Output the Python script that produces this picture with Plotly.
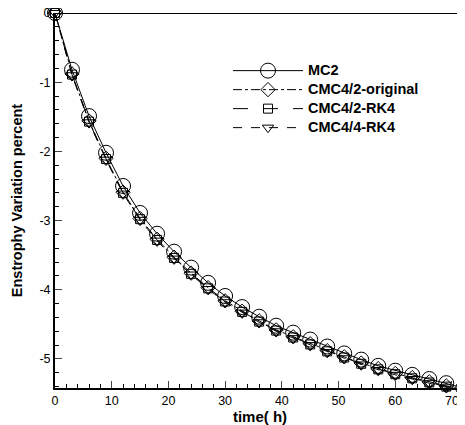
import plotly.graph_objects as go

time_h = [0, 3, 6, 9, 12, 15, 18, 21, 24, 27, 30, 33, 36, 39, 42, 45, 48, 51, 54, 57, 60, 63, 66, 69, 72]
mc2 = [0, -0.82, -1.49, -2.02, -2.50, -2.89, -3.19, -3.45, -3.68, -3.90, -4.09, -4.25, -4.39, -4.52,
       -4.62, -4.72, -4.82, -4.92, -5.01, -5.10, -5.17, -5.23, -5.29, -5.35, -5.42]
cmc42_orig = [0, -0.88, -1.56, -2.10, -2.59, -2.97, -3.27, -3.53, -3.76, -3.97, -4.16, -4.31, -4.45, -4.58,
              -4.68, -4.78, -4.88, -4.97, -5.06, -5.14, -5.21, -5.27, -5.33, -5.39, -5.45]
cmc42_rk4 = [0, -0.89, -1.57, -2.11, -2.60, -2.98, -3.28, -3.54, -3.77, -3.98, -4.17, -4.32, -4.46, -4.59,
             -4.69, -4.79, -4.89, -4.98, -5.07, -5.15, -5.22, -5.28, -5.34, -5.40, -5.46]
cmc44_rk4 = [0, -0.90, -1.58, -2.12, -2.61, -2.99, -3.29, -3.55, -3.78, -3.99, -4.18, -4.33, -4.47, -4.60,
             -4.70, -4.80, -4.90, -4.99, -5.08, -5.16, -5.23, -5.29, -5.35, -5.41, -5.47]

x_tick_vals = [0, 10, 20, 30, 40, 50, 60, 70]
x_tick_text = ["0", "10", "20", "30", "40", "50", "60", "70"]
y_tick_vals = [0, -1, -2, -3, -4, -5]
y_tick_text = ["0", "-1", "-2", "-3", "-4", "-5"]

series = [
    ("MC2", mc2, "solid", "circle-open", 15),
    ("CMC4/2-original", cmc42_orig, "dashdot", "diamond-open", 11),
    ("CMC4/2-RK4", cmc42_rk4, "longdash", "square-open", 9),
    ("CMC4/4-RK4", cmc44_rk4, "dash", "triangle-down-open", 10),
]

fig = go.Figure()
for name, ys, dash, sym, sz in series:
    fig.add_trace(go.Scatter(
        x=time_h, y=ys, name='<span style="font-size:14.5px">' + name + '</span>',
        mode="lines+markers",
        line=dict(color="black", width=1, dash=dash),
        marker=dict(symbol=sym, size=sz, color="black", line=dict(width=1, color="black")),
        cliponaxis=False,
    ))

fig.add_shape(type="line", xref="paper", yref="y", x0=0, x1=1, y0=0, y1=0,
              line=dict(color="black", width=2))

fig.update_layout(
    width=465, height=425,
    margin=dict(l=47, r=8, t=5, b=45),
    paper_bgcolor="white", plot_bgcolor="white",
    font=dict(family="Liberation Sans, Arial, sans-serif", size=12, color="black"),
    showlegend=True,
    legend=dict(x=0.422, y=0.885, xanchor="left", yanchor="top", bgcolor="rgba(0,0,0,0)",
                font=dict(size=12, family="Liberation Sans, Arial, sans-serif", weight="bold"),
                itemwidth=70, tracegroupgap=0),
    xaxis=dict(range=[0, 72.3], showgrid=False, zeroline=False, showline=True, linecolor="black",
               linewidth=2, ticks="inside", tickwidth=1, ticklen=7,
               tickmode="array", tickvals=x_tick_vals, ticktext=x_tick_text,
               minor=dict(ticks="inside", ticklen=4, dtick=2, tick0=0, tickcolor="black"),
               title=dict(text="<b>time( h)</b>", font=dict(size=15), standoff=0),
               tickfont=dict(size=12.5), automargin=False, ticklabeloverflow="allow"),
    yaxis=dict(range=[-5.42, 0], showgrid=False, zeroline=False, showline=True, linecolor="black",
               linewidth=2, ticks="inside", tickwidth=1, ticklen=7,
               tickmode="array", tickvals=y_tick_vals, ticktext=y_tick_text,
               minor=dict(ticks="inside", ticklen=4, dtick=0.2, tick0=0, tickcolor="black"),
               title=dict(text="<b>Enstrophy Variation percent</b>", font=dict(size=14.5), standoff=13),
               tickfont=dict(size=12.5), automargin=False, ticklabeloverflow="allow"),
)

fig.write_html("out.html")
